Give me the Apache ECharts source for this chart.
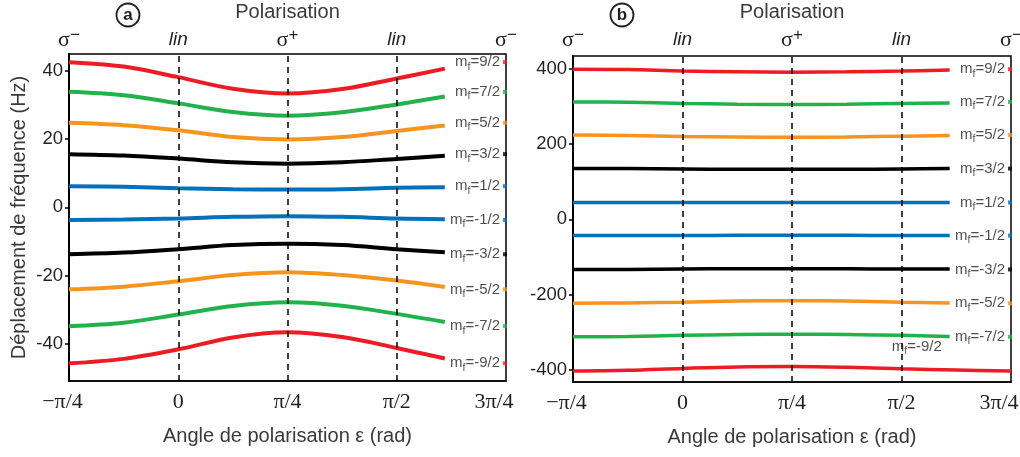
<!DOCTYPE html>
<html>
<head>
<meta charset="utf-8">
<script src="https://cdn.jsdelivr.net/npm/echarts@6/dist/echarts.min.js"></script>
<style>html,body{margin:0;padding:0;background:#fff}#c{width:1020px;height:457px}</style>
</head>
<body>
<div id="c"></div>
<script>
// x positions in units of pi/4
const xCurve = [-1, -0.5, 0, 0.5, 1, 1.5, 2, 2.44];
const xCurveLong = [-1, -0.5, 0, 0.5, 1, 1.5, 2, 2.5, 3];
const xTickValues = [-1, 0, 1, 2, 3];
const xTickLabels = ['\u2212\u03c0/4', '0', '\u03c0/4', '\u03c0/2', '3\u03c0/4'];
const polTop = ['sm', 'lin', 'sp', 'lin', 'sm'];
const yTicksA = [-40, -20, 0, 20, 40];
const yTicksB = [-400, -200, 0, 200, 400];
const mfNames = ['9/2', '7/2', '5/2', '3/2', '1/2', '-1/2', '-3/2', '-5/2', '-7/2', '-9/2'];
const colors = ['#ED1C24', '#22B24C', '#F7941E', '#000000', '#0072BC', '#0072BC', '#000000', '#F7941E', '#22B24C', '#ED1C24'];

// Panel (a) values (Hz)
const a92 = [42.6, 41.3, 38.2, 34.8, 33.4, 34.7, 37.8, 40.7];
const a72 = [33.9, 32.9, 30.5, 28.0, 26.9, 27.9, 30.2, 32.5];
const a52 = [24.8, 24.1, 22.6, 20.6, 19.9, 20.6, 22.4, 24.0];
const a32 = [15.6, 15.2, 14.3, 13.2, 12.8, 13.2, 14.2, 15.1];
const a12 = [6.2, 6.0, 5.6, 5.3, 5.2, 5.3, 5.7, 5.9];
const am12 = [-3.7, -3.6, -3.3, -2.8, -2.6, -2.8, -3.3, -3.5];
const am32 = [-13.8, -13.3, -12.3, -11.1, -10.7, -11.1, -12.3, -13.2];
const am52 = [-24.1, -23.3, -21.7, -19.9, -19.1, -19.9, -21.5, -23.4];
const am72 = [-34.9, -33.9, -31.5, -29.0, -27.9, -28.9, -31.3, -33.7];
const am92 = [-45.8, -44.5, -41.7, -38.2, -36.7, -38.1, -41.3, -44.4];

// Panel (b) values (Hz)
const b92 = [399, 398, 394, 392, 391, 392, 394, 397];
const b72 = [312, 311, 308, 306, 305, 306, 308, 309];
const b52 = [224, 223, 220, 219, 218, 219, 221, 223];
const b32 = [135, 135, 134, 133, 133, 133, 134, 135];
const b12 = [45, 45, 45, 45, 45, 45, 45, 45];
const bm12 = [-43, -43, -43, -42, -42, -42, -43, -43];
const bm32 = [-133, -133, -132, -131, -131, -131, -132, -132];
const bm52 = [-223, -222, -220, -217, -216, -217, -220, -222];
const bm72 = [-312, -311, -308, -306, -305, -306, -308, -311];
const bm92 = [-403, -401, -396, -392, -391, -393, -397, -400, -403];

// right-edge level markers (value at 3pi/4)
const markA = [42.6, 33.9, 24.8, 15.6, 6.2, -3.7, -13.8, -24.1, -34.9, -45.8];
const markB = [399, 312, 224, 135, 45, -43, -133, -223, -312, null];
// extra annotation in panel b: label of mf=-9/2
const annotB = [[2.14, -338, '-9/2']];

const seriesA = [a92, a72, a52, a32, a12, am12, am32, am52, am72, am92];
const seriesB = [b92, b72, b52, b32, b12, bm12, bm32, bm52, bm72, bm92];

const FS = 'Liberation Sans, Arial, sans-serif';
const SERIF = 'Liberation Serif, Times New Roman, serif';
const TXT = '#231f20';

const mfRich = {
  m: {fontSize: 15, fontFamily: FS, color: TXT},
  f: {fontSize: 10.5, fontFamily: FS, color: TXT, padding: [9, 0, 0, 0]}
};
function mfLabel(n) { return '{m|m}{f|f}{m|=' + n + '}'; }

const grids = [
  {left: 69, right: 514, top: 54, bottom: 76},
  {left: 573, right: 9, top: 56, bottom: 75}
];

function xAxes(gi) {
  const top = grids[gi].top;
  return [
    {
      type: 'value', gridIndex: gi, min: -1, max: 3, interval: 1, position: 'bottom',
      axisLine: {show: true, onZero: false, lineStyle: {color: '#000', width: 1.5}},
      axisTick: {show: false}, splitLine: {show: false},
      axisLabel: {
        margin: 10, showMinLabel: true, showMaxLabel: true,
        formatter: v => {
          const r = Math.round(v);
          const t = xTickLabels[xTickValues.indexOf(r)] || '';
          if (r === -1) return '{a|' + t + '}';
          if (r === 3) return '{b|' + t + '}';
          return '{n|' + t + '}';
        },
        rich: {
          n: {fontFamily: SERIF, fontSize: 22, color: TXT},
          a: {fontFamily: SERIF, fontSize: 22, color: TXT, padding: [0, 13, 0, 0]},
          b: {fontFamily: SERIF, fontSize: 22, color: TXT, padding: [0, 24, 0, 0]}
        }
      },
      name: 'Angle de polarisation \u03b5 (rad)', nameLocation: 'middle', nameGap: 45,
      nameMoveOverlap: false,
      nameTextStyle: {fontFamily: FS, fontSize: 20, color: '#3a3a3a'}
    },
    {
      type: 'value', gridIndex: gi, min: -1, max: 3, interval: 1, position: 'top',
      axisLine: {show: false, onZero: false}, axisTick: {show: false}, splitLine: {show: false},
      axisLabel: {
        margin: top - 40, verticalAlign: 'middle', showMinLabel: true, showMaxLabel: true,
        formatter: v => {
          const k = polTop[xTickValues.indexOf(Math.round(v))];
          if (k === 'lin') return '{l|lin}';
          if (k === 'sp') return '{s|\u03c3}{p|+}';
          return '{s|\u03c3}{p|\u2212}';
        },
        rich: {
          l: {fontFamily: FS, fontStyle: 'italic', fontSize: 19, color: TXT},
          s: {fontFamily: SERIF, fontSize: 22, color: TXT},
          p: {fontFamily: FS, fontSize: 17, color: TXT, padding: [0, 0, 10, 0]}
        }
      },
      name: 'Polarisation', nameLocation: 'middle', nameGap: top - 12,
      nameMoveOverlap: false,
      nameTextStyle: {fontFamily: FS, fontSize: 20, color: '#3a3a3a', verticalAlign: 'middle'}
    }
  ];
}

function yAxis(gi, min, max, ticks) {
  return {
    type: 'value', gridIndex: gi, min: min, max: max,
    axisLine: {show: true, onZero: false, lineStyle: {color: '#000', width: 2}},
    axisTick: {show: true, length: 4, inside: false, customValues: ticks, lineStyle: {color: '#000', width: 1.5}},
    axisLabel: {customValues: ticks, fontFamily: FS, fontSize: 18.5, color: TXT, margin: 6},
    splitLine: {show: false},
    name: gi === 0 ? 'D\u00e9placement de fr\u00e9quence (Hz)' : '',
    nameLocation: 'middle', nameGap: 40, nameMoveOverlap: false,
    nameTextStyle: {fontFamily: FS, fontSize: 20, color: '#3a3a3a'}
  };
}

const series = [];
function addPanel(gi, vals, marks, lw) {
  vals.forEach((ys, i) => {
    const xs = ys.length === xCurveLong.length ? xCurveLong : xCurve;
    series.push({
      type: 'line', xAxisIndex: gi * 2, yAxisIndex: gi, silent: true, z: 4,
      data: xs.map((x, j) => [x, ys[j]]), smooth: 0.35, showSymbol: false,
      lineStyle: {color: colors[i], width: lw}, itemStyle: {color: colors[i]}
    });
  });
  const md = [];
  marks.forEach((v, i) => {
    if (v === null) return;
    md.push({value: [3, v], name: mfNames[i], itemStyle: {color: colors[i]}});
  });
  series.push({
    type: 'scatter', xAxisIndex: gi * 2, yAxisIndex: gi, silent: true, clip: false, z: 3,
    symbol: 'rect', symbolSize: [4, 4], symbolOffset: [-1, 0],
    data: md,
    label: {
      show: true, position: 'left', distance: 3,
      formatter: p => mfLabel(p.name), rich: mfRich
    },
    markLine: {
      silent: true, symbol: ['none', 'none'], label: {show: false},
      lineStyle: {color: '#000', type: [6, 5], width: 1.5},
      data: [{xAxis: 0}, {xAxis: 1}, {xAxis: 2}], animation: false
    }
  });
}
addPanel(0, seriesA, markA, 4);
addPanel(1, seriesB, markB, 3.5);
series.push({
  type: 'scatter', xAxisIndex: 2, yAxisIndex: 1, silent: true, z: 5, symbolSize: 0,
  data: annotB.map(d => ({value: [d[0], d[1]], name: d[2]})),
  label: {show: true, position: 'inside', formatter: p => mfLabel(p.name), rich: mfRich}
});

function circled(cx, letter) {
  return {
    type: 'group', children: [
      {type: 'circle', shape: {cx: cx, cy: 15, r: 11.5}, style: {fill: '#fff', stroke: '#231f20', lineWidth: 1.8}},
      {type: 'text', x: cx, y: 15, style: {text: letter, fontFamily: FS, fontWeight: 'bold', fontSize: 17, fill: '#231f20', align: 'center', verticalAlign: 'middle'}}
    ]
  };
}

const chart = echarts.init(document.getElementById('c'), null, {renderer: 'canvas'});
chart.setOption({
  animation: false,
  backgroundColor: '#fff',
  grid: grids.map(g => Object.assign({show: true, borderColor: '#000', borderWidth: 1.5, backgroundColor: 'transparent', containLabel: false, outerBoundsMode: 'none'}, g)),
  xAxis: xAxes(0).concat(xAxes(1)),
  yAxis: [yAxis(0, -51, 45, yTicksA), yAxis(1, -432, 434, yTicksB)],
  series: series,
  graphic: [circled(128, 'a'), circled(622, 'b')]
});
</script>
</body>
</html>
